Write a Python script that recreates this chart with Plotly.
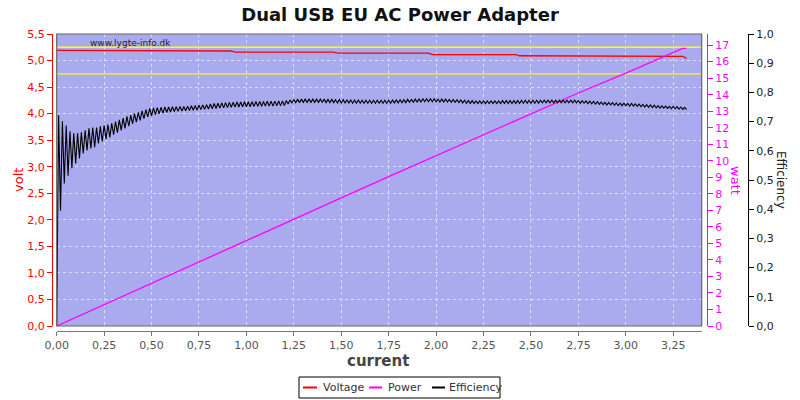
import plotly.graph_objects as go

# ---------------- data ----------------
volt_current = [0.00, 0.36, 0.38, 0.92, 0.94, 1.46, 1.48, 1.96, 1.98, 2.42, 2.44, 2.89, 2.91, 3.30, 3.32]
voltage = [5.19, 5.19, 5.18, 5.18, 5.16, 5.16, 5.14, 5.14, 5.11, 5.11, 5.09, 5.09, 5.08, 5.08, 5.04]

power_current = [0.00, 0.25, 0.50, 0.75, 1.00, 1.25, 1.50, 1.75, 2.00, 2.25, 2.50, 2.75, 3.00, 3.25, 3.30, 3.32]
power = [0.00, 1.30, 2.60, 3.89, 5.18, 6.47, 7.75, 9.04, 10.30, 11.57, 12.84, 14.10, 15.30, 16.55, 16.80, 16.80]

eff_start = 0.0
eff_step = 0.01
eff_peaks = [
    0.722, 0.701, 0.687, 0.667, 0.660, 0.660, 0.663, 0.670, 0.677, 0.680,
    0.680, 0.684, 0.687, 0.690, 0.694, 0.700, 0.706, 0.712, 0.718, 0.722,
    0.727, 0.732, 0.737, 0.741, 0.745, 0.747, 0.748, 0.749, 0.750, 0.750,
    0.751, 0.751, 0.752, 0.752, 0.753, 0.754, 0.755, 0.756, 0.757, 0.758,
    0.760, 0.762, 0.763, 0.764, 0.765, 0.766, 0.766, 0.767, 0.767, 0.768,
    0.768, 0.768, 0.769, 0.769, 0.769, 0.770, 0.770, 0.770, 0.771, 0.771,
    0.772, 0.774, 0.776, 0.776, 0.777, 0.777, 0.777, 0.777, 0.777, 0.777,
    0.776, 0.776, 0.776, 0.775, 0.775, 0.775, 0.774, 0.774, 0.774, 0.774,
    0.773, 0.773, 0.773, 0.773, 0.773, 0.773, 0.773, 0.773, 0.774, 0.774,
    0.775, 0.775, 0.776, 0.776, 0.777, 0.777, 0.778, 0.778, 0.778, 0.778,
    0.777, 0.777, 0.777, 0.776, 0.776, 0.775, 0.774, 0.773, 0.772, 0.772,
    0.771, 0.771, 0.771, 0.771, 0.771, 0.771, 0.771, 0.772, 0.772, 0.772,
    0.772, 0.772, 0.773, 0.773, 0.773, 0.773, 0.773, 0.773, 0.773, 0.773,
    0.773, 0.773, 0.773, 0.773, 0.773, 0.773, 0.773, 0.772, 0.772, 0.771,
    0.770, 0.769, 0.768, 0.767, 0.766, 0.766, 0.765, 0.764, 0.763, 0.763,
    0.762, 0.762, 0.761, 0.760, 0.759, 0.758, 0.757, 0.756, 0.755, 0.754,
    0.753, 0.752, 0.752, 0.751, 0.750, 0.749,
]
eff_troughs = [
    0.395, 0.488, 0.515, 0.540, 0.557, 0.574, 0.591, 0.601, 0.608, 0.612,
    0.625, 0.632, 0.640, 0.646, 0.655, 0.662, 0.670, 0.677, 0.684, 0.692,
    0.698, 0.704, 0.710, 0.716, 0.720, 0.724, 0.727, 0.729, 0.731, 0.733,
    0.734, 0.735, 0.736, 0.737, 0.738, 0.739, 0.740, 0.741, 0.742, 0.743,
    0.744, 0.745, 0.746, 0.747, 0.748, 0.749, 0.750, 0.750, 0.751, 0.751,
    0.751, 0.752, 0.752, 0.752, 0.753, 0.753, 0.753, 0.754, 0.754, 0.755,
    0.760, 0.764, 0.765, 0.765, 0.766, 0.766, 0.766, 0.766, 0.766, 0.766,
    0.765, 0.765, 0.765, 0.764, 0.764, 0.764, 0.764, 0.763, 0.763, 0.763,
    0.763, 0.763, 0.763, 0.763, 0.763, 0.763, 0.763, 0.763, 0.764, 0.764,
    0.765, 0.765, 0.766, 0.766, 0.767, 0.767, 0.768, 0.768, 0.768, 0.768,
    0.767, 0.767, 0.767, 0.766, 0.766, 0.765, 0.764, 0.763, 0.762, 0.762,
    0.762, 0.762, 0.762, 0.762, 0.762, 0.762, 0.762, 0.762, 0.762, 0.762,
    0.762, 0.762, 0.763, 0.763, 0.763, 0.763, 0.763, 0.764, 0.764, 0.764,
    0.764, 0.764, 0.764, 0.764, 0.764, 0.764, 0.764, 0.763, 0.763, 0.762,
    0.761, 0.760, 0.759, 0.758, 0.757, 0.757, 0.756, 0.755, 0.754, 0.754,
    0.753, 0.753, 0.752, 0.751, 0.750, 0.749, 0.748, 0.747, 0.746, 0.746,
    0.745, 0.744, 0.744, 0.743, 0.742, 0.741,
]

# sampling grid of the efficiency measurement: start point, then peak/trough pairs
efficiency = [0.0]
for p, t in zip(eff_peaks, eff_troughs):
    efficiency += [p, t]
eff_current = [round(eff_start + i * eff_step, 2) for i in range(len(efficiency))]

limit_low, limit_high = 4.75, 5.25
x_min, x_max = 0.0, 3.4

series_names = ["Voltage", "Power", "Efficiency"]
series_colors = ["#FF0000", "#FF00FF", "#000000"]

# ---------------- figure ----------------
W, H = 800, 400
ml, mr, mt, mb = 52, 52, 34, 69
pw = W - ml - mr
ph = H - mt - mb
x_dom = [(56.7 - ml) / pw, (701.7 - ml) / pw]
y_dom = [(331 - 326) / ph, 1.0]


def px(x):
    return (x - ml) / pw


def py(y):
    return (H - mb - y) / ph


font_main = "DejaVu Sans, Verdana, sans-serif"
grid_col = "rgba(235,235,255,0.75)"

fig = go.Figure()
# yellow limit lines (drawn first, beneath the data)
for v in (limit_low, limit_high):
    fig.add_trace(go.Scatter(x=[x_min, x_max], y=[v, v], mode="lines", showlegend=False,
                             hoverinfo="skip", line=dict(color="#FFFF00", width=1.3), yaxis="y"))
fig.add_trace(go.Scatter(x=volt_current, y=voltage, name=series_names[0], mode="lines",
                         line=dict(color=series_colors[0], width=1.3), yaxis="y"))
fig.add_trace(go.Scatter(x=power_current, y=power, name=series_names[1], mode="lines",
                         line=dict(color=series_colors[1], width=1.3), yaxis="y2"))
fig.add_trace(go.Scatter(x=eff_current, y=efficiency, name=series_names[2], mode="lines",
                         line=dict(color=series_colors[2], width=1.1), yaxis="y3"))

fig.update_layout(
    width=W, height=H,
    margin=dict(l=ml, r=mr, t=mt, b=mb, autoexpand=False),
    paper_bgcolor="white",
    plot_bgcolor="#AAAAEE",
    separators=", ",
    font=dict(family=font_main, size=11, color="#555555"),
    title=dict(text="<b>Dual USB EU AC Power Adapter</b>", x=0.5, xanchor="center",
               xref="paper", yref="container",
               y=1 - 15 / H, yanchor="middle", font=dict(family=font_main, size=18, color="#111111")),
    showlegend=False,
    xaxis=dict(domain=x_dom, range=[x_min, x_max], dtick=0.25, tick0=0, tickformat=".2f",
               showgrid=True, gridcolor=grid_col, griddash="3px,3px", gridwidth=1,
               zeroline=False, showline=True, linecolor="#777777", linewidth=1,
               anchor="free", position=0, automargin=False,
               ticks="outside", ticklen=4, tickcolor="#777777",
               tickfont=dict(family=font_main, size=11, color="#555555")),
    yaxis=dict(domain=y_dom, range=[0, 5.5], dtick=0.5, tickformat=".1f",
               showgrid=True, gridcolor=grid_col, griddash="3px,3px", gridwidth=1,
               zeroline=False, showline=True, linecolor="#FF0000", linewidth=1,
               anchor="free", position=0, automargin=False,
               ticks="outside", ticklen=5, tickcolor="#FF0000",
               tickfont=dict(family=font_main, size=11, color="#FF0000")),
    yaxis2=dict(domain=y_dom, range=[0, 17.67], dtick=1, overlaying="y", side="right",
                anchor="free", position=px(707), automargin=False,
                showgrid=False, zeroline=False, showline=True, linecolor="#FF00FF", linewidth=1,
                ticks="outside", ticklen=5, tickcolor="#FF00FF",
                tickfont=dict(family=font_main, size=11, color="#FF00FF")),
    yaxis3=dict(domain=y_dom, range=[0, 1.0], dtick=0.1, tickformat=".1f", overlaying="y",
                side="right", anchor="free", position=1.0, automargin=False,
                showgrid=False, zeroline=False, showline=True, linecolor="#000000", linewidth=1,
                ticks="outside", ticklen=5, tickcolor="#000000",
                tickfont=dict(family=font_main, size=11, color="#222222")),
)

# plot frame
fig.add_shape(type="rect", xref="x domain", yref="y domain", x0=0, x1=1, y0=0, y1=1,
              line=dict(color="#666666", width=1.2), layer="above")

# watermark
fig.add_annotation(text="www.lygte-info.dk", xref="paper", yref="paper",
                   x=px(88), y=py(43), xanchor="left", yanchor="middle",
                   showarrow=False, font=dict(family=font_main, size=9, color="#222222"))

# axis titles
fig.add_annotation(text="volt", xref="paper", yref="paper", x=px(18), y=py(180),
                   xanchor="center", yanchor="middle", textangle=-90, showarrow=False,
                   font=dict(family=font_main, size=13, color="#FF0000"))
fig.add_annotation(text="watt", xref="paper", yref="paper", x=px(736), y=py(180),
                   xanchor="center", yanchor="middle", textangle=90, showarrow=False,
                   font=dict(family=font_main, size=13, color="#FF00FF"))
fig.add_annotation(text="Efficiency", xref="paper", yref="paper", x=px(781), y=py(180),
                   xanchor="center", yanchor="middle", textangle=90, showarrow=False,
                   font=dict(family=font_main, size=12, color="#222222"))
fig.add_annotation(text="<b>current</b>", xref="paper", yref="paper", x=px(378), y=py(361),
                   xanchor="center", yanchor="middle", showarrow=False,
                   font=dict(family=font_main, size=15, color="#444444"))

# legend box (drawn manually to match the compact original)
fig.add_shape(type="rect", xref="paper", yref="paper", x0=px(299), x1=px(500),
              y0=py(398), y1=py(377), line=dict(color="#000000", width=1), fillcolor="white")
leg_lines = [(303, 317), (369, 382), (432, 445)]
leg_text_x = [321, 386, 447]
for name, col, (a, b), tx in zip(series_names, series_colors, leg_lines, leg_text_x):
    fig.add_shape(type="line", xref="paper", yref="paper", x0=px(a), x1=px(b),
                  y0=py(387.5), y1=py(387.5), line=dict(color=col, width=2))
    fig.add_annotation(text=name, xref="paper", yref="paper", x=px(tx), y=py(387.5),
                       xanchor="left", yanchor="middle", showarrow=False,
                       font=dict(family=font_main, size=11, color="#333333"))

fig.write_html("out.html", config={"displayModeBar": False},
               post_script="document.body.style.margin='0px';")
